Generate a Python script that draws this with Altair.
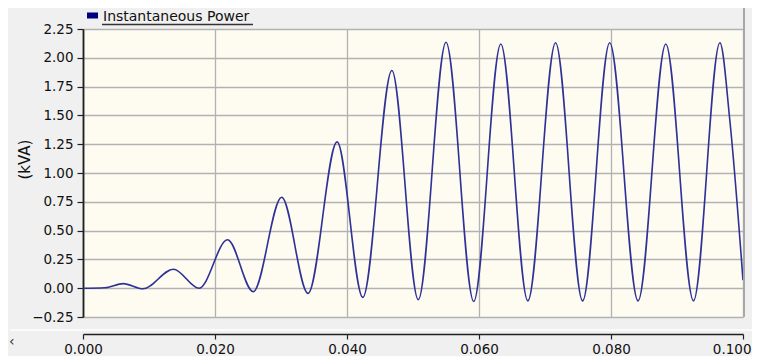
import altair as alt
import pandas as pd

# ---- data ----
time_s = [0.0000, 0.0033, 0.0061, 0.0091, 0.0137, 0.0176, 0.0219, 0.0258,
          0.0301, 0.0341, 0.0385, 0.0424, 0.0468, 0.0508, 0.0550, 0.0592,
          0.0633, 0.0674, 0.0716, 0.0757, 0.0798, 0.0841, 0.0883, 0.0925,
          0.0965, 0.0980, 0.1000]
power_kva = [0.000, 0.004, 0.040, -0.005, 0.165, 0.000, 0.420, -0.030,
             0.790, -0.045, 1.270, -0.080, 1.890, -0.100, 2.135, -0.115,
             2.120, -0.110, 2.130, -0.110, 2.130, -0.110, 2.120, -0.110,
             2.130, 1.460, 0.070]
series_name = "Instantaneous Power"
x_ticks = [0.000, 0.020, 0.040, 0.060, 0.080, 0.100]
y_ticks = [-0.25, 0.00, 0.25, 0.50, 0.75, 1.00, 1.25, 1.50, 1.75, 2.00, 2.25]

df = pd.DataFrame({"t": time_s, "p": power_kva})
one = pd.DataFrame({"a": [0]})

FONT = "DejaVu Sans"
LINE = "#2E3196"
GRID = "#B2B2B2"
W, H = 660, 288

line = alt.Chart(df).mark_line(color=LINE, strokeWidth=1.6, interpolate="monotone").encode(
    x=alt.X("t:Q",
            scale=alt.Scale(domain=[0, 0.1], nice=False, zero=False),
            axis=alt.Axis(values=x_ticks, format=".3f", title=None, offset=17,
                          domainColor="#202020", domainWidth=1.5,
                          tickColor="#202020", tickSize=5, tickWidth=1.2,
                          labelFont=FONT, labelFontSize=13.5, labelColor="#111111",
                          labelPadding=3, labelFlush=False, labelOverlap=False,
                          labelAlign={"expr": "datum.value >= 0.0999 ? 'right' : 'center'"},
                          labelOffset={"expr": "datum.value >= 0.0999 ? 8 : 0"},
                          grid=True, gridColor=GRID, gridWidth=1.3)),
    y=alt.Y("p:Q",
            scale=alt.Scale(domain=[-0.25, 2.25], nice=False, zero=False),
            axis=alt.Axis(values=y_ticks, format=".2f", title="(kVA)",
                          domainColor="#202020", domainWidth=1.8,
                          tickColor="#202020", tickSize=6, tickWidth=1.2,
                          labelFont=FONT, labelFontSize=13.5, labelColor="#111111",
                          labelPadding=4, labelOverlap=False,
                          grid=True, gridColor=GRID, gridWidth=1.3,
                          titleFont=FONT, titleFontSize=15, titleFontWeight="normal",
                          titleColor="#111111", titleAngle=270, titleX=-59, titleY=130,
                          titleAlign="center", titleBaseline="middle")),
)

legend_sym = alt.Chart(one).mark_rect(color="#000080").encode(
    x=alt.value(4), x2=alt.value(15), y=alt.value(-16.5), y2=alt.value(-10.5))
legend_txt = alt.Chart(one).mark_text(
    text=series_name, font=FONT, fontSize=14, color="#111111",
    align="left", baseline="alphabetic").encode(x=alt.value(20), y=alt.value(-8))
legend_ul = alt.Chart(one).mark_rule(color="#333333", strokeWidth=1.5).encode(
    x=alt.value(19), x2=alt.value(170), y=alt.value(-4.5))
right_border = alt.Chart(one).mark_rule(color="#A8A8A8", strokeWidth=2).encode(
    x=alt.value(661), y=alt.value(-26), y2=alt.value(H))
separator = alt.Chart(one).mark_rule(color="#FFFFFF", strokeWidth=1.5).encode(
    x=alt.value(-73), x2=alt.value(680), y=alt.value(301))
arrow = alt.Chart(one).mark_text(
    text="\u2039", font=FONT, fontSize=14, color="#333333",
    align="left", baseline="middle").encode(x=alt.value(-74), y=alt.value(313))

chart = alt.layer(line, right_border, separator, legend_sym, legend_txt, legend_ul, arrow).properties(
    width=W, height=H,
    autosize=alt.AutoSizeParams(type="none"),
    padding={"left": 75, "top": 21, "right": 9, "bottom": 39},
    background="#F0F0F0",
).configure_view(fill="#FEFBF0", stroke="transparent")

chart.save("out.html", embed_options={"renderer": "svg", "actions": False})
